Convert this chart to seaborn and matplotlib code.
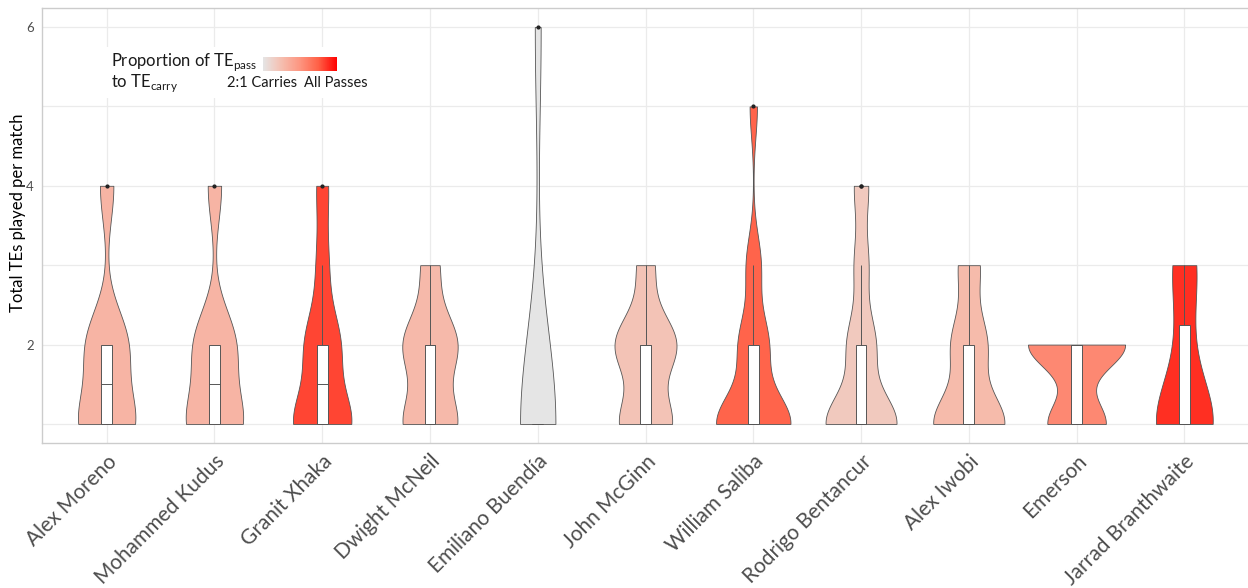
import numpy as np
import pandas as pd
import seaborn as sns
import matplotlib
matplotlib.use("Agg")
import matplotlib.pyplot as plt
from matplotlib.colors import LinearSegmentedColormap, Normalize
from matplotlib.patches import Rectangle

# players in plotting order
players = ["Alex Moreno", "Mohammed Kudus", "Granit Xhaka", "Dwight McNeil",
           "Emiliano Buendía", "John McGinn", "William Saliba", "Rodrigo Bentancur",
           "Alex Iwobi", "Emerson", "Jarrad Branthwaite"]

# number of matches with 1..6 TEs played
n_one = [4, 4, 5, 6, 6, 6, 10, 10, 10, 3, 5]
n_two = [3, 3, 3, 6, 0, 7, 4, 4, 5, 5, 1]
n_three = [0, 0, 1, 2, 0, 2, 2, 2, 3, 0, 2]
n_four = [1, 1, 1, 0, 0, 0, 0, 2, 0, 0, 0]
n_five = [0, 0, 0, 0, 0, 0, 1, 0, 0, 0, 0]
n_six = [0, 0, 0, 0, 1, 0, 0, 0, 0, 0, 0]

# share of pass TEs (0 = 2:1 carries, 1 = all passes)
pass_share = [0.31, 0.31, 0.82, 0.28, 0.0, 0.22, 0.73, 0.18, 0.27, 0.56, 0.875]

rows = []
for i, p in enumerate(players):
    for val, counts in zip(range(1, 7), [n_one, n_two, n_three, n_four, n_five, n_six]):
        rows += [(p, val)] * counts[i]
df = pd.DataFrame(rows, columns=["player", "tes"])

# grey90 -> red, roughly like ggplot's Lab gradient
cmap = LinearSegmentedColormap.from_list(
    "te", ["#E5E5E5", "#F5BEAF", "#FD9580", "#FF6046", "#FF0000"])
pal = {p: cmap(s) for p, s in zip(players, pass_share)}


def nrd0(kde):
    # R's bw.nrd0, given back as a factor of the sd
    x = kde.dataset.ravel()
    sd = x.std(ddof=1)
    q75, q25 = np.percentile(x, [75, 25])
    lo = min(sd, (q75 - q25) / 1.34) or sd or 1.0
    return 0.9 * lo * len(x) ** -0.2 / sd


sns.set_theme(style="whitegrid")
plt.rcParams["font.family"] = ["Lato", "DejaVu Sans"]

fig = plt.figure(figsize=(12.48, 5.88), dpi=100)
ax = fig.add_axes([42 / 1248, 1 - 443 / 588, 1207 / 1248, 435 / 588])

sns.violinplot(data=df, x="player", y="tes", hue="player", order=players,
               hue_order=players, palette=pal, legend=False, cut=0, inner=None,
               density_norm="area", common_norm=True, width=0.9, bw_method=nrd0,
               gridsize=256, linewidth=0.6, linecolor="#555555", saturation=1, ax=ax)
sns.boxplot(data=df, x="player", y="tes", order=players, width=0.1,
            color="white", linecolor="#555555", linewidth=0.7, saturation=1,
            showcaps=False, fliersize=2,
            flierprops=dict(marker="o", markerfacecolor="#222222",
                            markeredgecolor="#222222"), ax=ax)

ax.set_xlim(-0.6, 10.6)
ax.set_ylim(0.76, 6.24)
ax.set_yticks([2, 4, 6])
ax.set_yticks([1, 3, 5], minor=True)
ax.grid(which="both", color="#EBEBEB", lw=0.9)
ax.set_axisbelow(True)
for s in ax.spines.values():
    s.set_color("#CCCCCC")
    s.set_linewidth(1)

ax.set_xticks(range(len(players)))
ax.set_xticklabels(players, rotation=45, ha="right", va="top",
                   rotation_mode="anchor", fontsize=15, color="#4D4D4D")
ax.tick_params(axis="both", which="major", length=3, width=0.8,
               color="#AAAAAA", pad=3)
ax.tick_params(axis="y", labelsize=9.5, labelcolor="#4D4D4D")
ax.tick_params(which="minor", length=0)
ax.set_xlabel("")
ax.set_ylabel("Total TEs played per match", fontsize=12, color="black")
ax.yaxis.set_label_coords(-0.013, 0.53)

# legend
fig.patches.append(Rectangle((100 / 1248, 1 - 98 / 588), 275 / 1248, 51 / 588,
                             transform=fig.transFigure, facecolor="white",
                             edgecolor="none", zorder=1))
fig.text(111 / 1248, 1 - 66 / 588, "Proportion of TE$_\\mathregular{pass}$",
         fontsize=12, va="baseline", ha="left", color="#1A1A1A", zorder=3)
fig.text(111 / 1248, 1 - 87 / 588, "to TE$_\\mathregular{carry}$",
         fontsize=12, va="baseline", ha="left", color="#1A1A1A", zorder=3)
fig.text(262 / 1248, 1 - 87 / 588, "2:1 Carries", fontsize=10.5,
         va="baseline", ha="center", color="#1A1A1A", zorder=3)
fig.text(336 / 1248, 1 - 87 / 588, "All Passes", fontsize=10.5,
         va="baseline", ha="center", color="#1A1A1A", zorder=3)
cax = fig.add_axes([263 / 1248, 1 - 71 / 588, 74 / 1248, 14 / 588])
cax.set_zorder(2)
sm = plt.cm.ScalarMappable(norm=Normalize(0, 1), cmap=cmap)
cb = fig.colorbar(sm, cax=cax, orientation="horizontal", ticks=[])
cb.outline.set_visible(False)

fig.savefig("out.png", dpi=100)
